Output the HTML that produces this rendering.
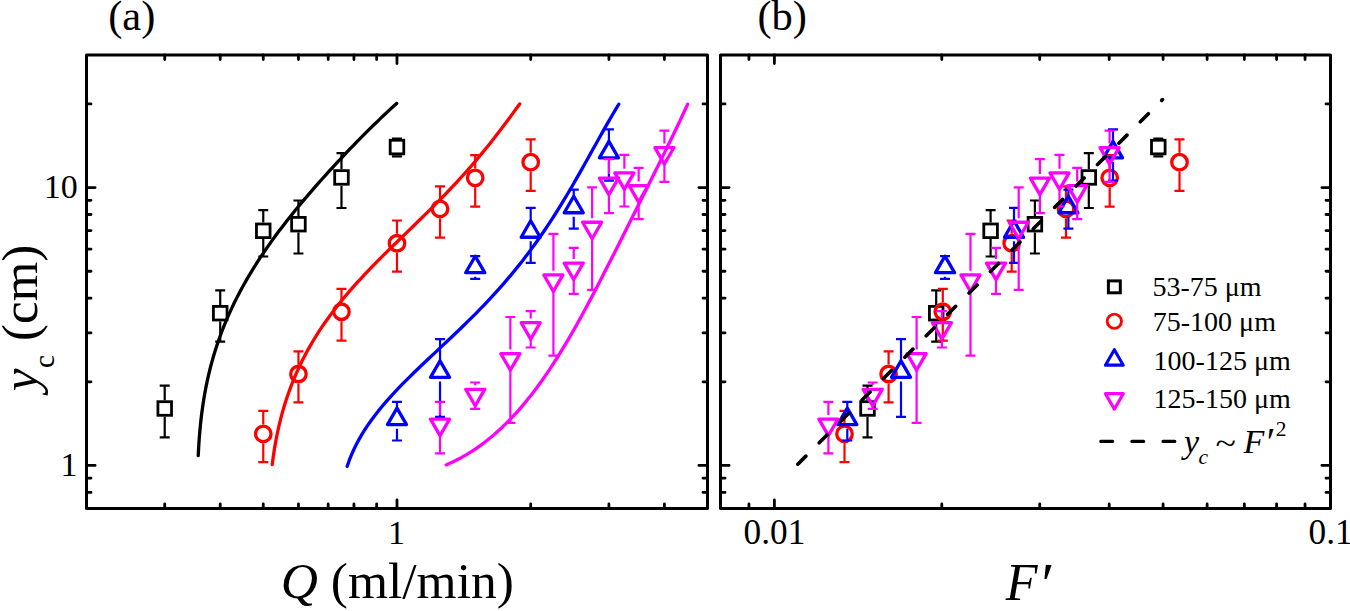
<!DOCTYPE html>
<html><head><meta charset="utf-8"><style>
html,body{margin:0;padding:0;background:#fff;width:1350px;height:611px;overflow:hidden;}
svg{display:block;font-family:"Liberation Serif",serif;}
</style></head><body>
<svg width="1350" height="611" viewBox="0 0 1350 611" font-family="'Liberation Serif', serif">
<rect width="1350" height="611" fill="#fff"/>
<path d="M198.23 455.62 L198.49 450.43 L198.8 445.21 L199.15 439.98 L199.55 434.74 L200 429.49 L200.5 424.24 L201.07 418.98 L201.7 413.73 L202.39 408.48 L203.16 403.24 L203.99 398 L204.89 392.78 L205.87 387.58 L206.93 382.39 L208.06 377.22 L209.26 372.07 L210.55 366.94 L211.91 361.84 L213.35 356.76 L214.87 351.71 L216.47 346.68 L218.15 341.69 L219.91 336.72 L221.74 331.78 L223.65 326.88 L225.63 322 L227.69 317.16 L229.82 312.35 L232.03 307.58 L234.3 302.83 L236.64 298.12 L239.05 293.45 L241.53 288.8 L244.07 284.19 L246.67 279.62 L249.34 275.07 L252.06 270.56 L254.84 266.08 L257.67 261.64 L260.55 257.22 L263.49 252.83 L266.47 248.48 L269.5 244.15 L272.57 239.86 L275.68 235.59 L278.83 231.35 L282.02 227.14 L285.25 222.96 L288.51 218.8 L291.8 214.67 L295.12 210.56 L298.47 206.47 L301.85 202.41 L305.25 198.38 L308.67 194.36 L312.12 190.36 L315.58 186.39 L319.07 182.44 L322.58 178.5 L326.1 174.59 L329.64 170.69 L333.2 166.81 L336.77 162.95 L340.36 159.1 L343.97 155.27 L347.59 151.46 L351.23 147.67 L354.89 143.89 L358.56 140.13 L362.26 136.38 L365.97 132.65 L369.71 128.94 L373.47 125.24 L377.25 121.56 L381.07 117.89 L384.91 114.25 L388.79 110.62 L392.71 107.01 L396.66 103.43" fill="none" stroke="#000000" stroke-width="3.3" stroke-linecap="round" stroke-linejoin="round"/>
<path d="M272.25 464.5 L272.95 459.06 L273.73 453.57 L274.59 448.06 L275.55 442.54 L276.59 437 L277.73 431.46 L278.96 425.93 L280.29 420.41 L281.72 414.91 L283.25 409.43 L284.88 403.97 L286.62 398.55 L288.46 393.17 L290.41 387.83 L292.45 382.53 L294.6 377.27 L296.86 372.07 L299.21 366.92 L301.66 361.82 L304.21 356.77 L306.86 351.78 L309.6 346.85 L312.43 341.97 L315.36 337.15 L318.37 332.39 L321.46 327.68 L324.64 323.03 L327.89 318.43 L331.22 313.89 L334.63 309.4 L338.1 304.96 L341.64 300.57 L345.24 296.23 L348.9 291.93 L352.61 287.68 L356.37 283.47 L360.18 279.29 L364.03 275.15 L367.92 271.04 L371.85 266.97 L375.81 262.92 L379.79 258.89 L383.8 254.89 L387.83 250.9 L391.87 246.93 L395.92 242.97 L399.99 239.02 L404.05 235.08 L408.12 231.13 L412.19 227.19 L416.25 223.25 L420.3 219.3 L424.33 215.34 L428.36 211.37 L432.36 207.39 L436.35 203.39 L440.31 199.37 L444.25 195.33 L448.15 191.26 L452.03 187.18 L455.88 183.06 L459.7 178.92 L463.48 174.75 L467.23 170.55 L470.95 166.31 L474.63 162.05 L478.27 157.75 L481.88 153.42 L485.46 149.06 L489 144.66 L492.51 140.24 L495.98 135.78 L499.43 131.3 L502.85 126.79 L506.25 122.26 L509.63 117.71 L512.99 113.14 L516.33 108.55 L519.67 103.95" fill="none" stroke="#ff0000" stroke-width="3.3" stroke-linecap="round" stroke-linejoin="round"/>
<path d="M347.12 466.43 L349.12 460.73 L351.33 455.18 L353.72 449.78 L356.29 444.52 L359.03 439.39 L361.92 434.38 L364.97 429.48 L368.14 424.7 L371.45 420.01 L374.87 415.41 L378.39 410.9 L382.02 406.46 L385.74 402.1 L389.53 397.8 L393.4 393.55 L397.34 389.36 L401.33 385.22 L405.37 381.12 L409.46 377.05 L413.59 373.01 L417.74 369 L421.92 365 L426.12 361.02 L430.34 357.05 L434.56 353.09 L438.78 349.13 L443.01 345.17 L447.22 341.21 L451.43 337.23 L455.62 333.25 L459.8 329.25 L463.95 325.23 L468.08 321.19 L472.18 317.13 L476.25 313.04 L480.29 308.92 L484.29 304.78 L488.25 300.6 L492.17 296.39 L496.06 292.15 L499.89 287.87 L503.69 283.55 L507.44 279.2 L511.15 274.81 L514.8 270.38 L518.42 265.91 L521.98 261.4 L525.5 256.85 L528.97 252.27 L532.39 247.64 L535.77 242.98 L539.1 238.28 L542.39 233.54 L545.63 228.77 L548.83 223.96 L551.99 219.12 L555.11 214.25 L558.19 209.35 L561.24 204.42 L564.25 199.47 L567.23 194.49 L570.18 189.49 L573.11 184.47 L576.01 179.43 L578.89 174.39 L581.75 169.33 L584.59 164.26 L587.42 159.19 L590.24 154.13 L593.06 149.06 L595.88 144 L598.69 138.95 L601.51 133.92 L604.34 128.9 L607.18 123.91 L610.04 118.95 L612.92 114.02 L615.83 109.12 L618.76 104.27" fill="none" stroke="#0000ff" stroke-width="3.3" stroke-linecap="round" stroke-linejoin="round"/>
<path d="M446.21 464.91 L451.47 462.57 L456.61 460.08 L461.63 457.42 L466.53 454.61 L471.32 451.66 L476.01 448.57 L480.58 445.35 L485.05 442.01 L489.42 438.55 L493.69 434.98 L497.87 431.31 L501.95 427.53 L505.95 423.67 L509.86 419.72 L513.69 415.68 L517.43 411.57 L521.1 407.39 L524.7 403.14 L528.22 398.82 L531.67 394.44 L535.06 390.01 L538.39 385.53 L541.65 381 L544.86 376.42 L548.01 371.81 L551.11 367.15 L554.17 362.46 L557.17 357.74 L560.13 352.99 L563.05 348.21 L565.93 343.41 L568.77 338.58 L571.58 333.74 L574.36 328.87 L577.1 323.99 L579.82 319.09 L582.51 314.18 L585.18 309.26 L587.83 304.33 L590.46 299.39 L593.07 294.44 L595.66 289.48 L598.24 284.52 L600.81 279.55 L603.36 274.58 L605.91 269.6 L608.44 264.62 L610.97 259.64 L613.5 254.66 L616.01 249.67 L618.53 244.68 L621.04 239.69 L623.55 234.7 L626.06 229.71 L628.56 224.72 L631.07 219.72 L633.57 214.73 L636.08 209.73 L638.58 204.73 L641.09 199.73 L643.59 194.73 L646.09 189.73 L648.6 184.73 L651.1 179.72 L653.59 174.71 L656.09 169.7 L658.58 164.68 L661.07 159.66 L663.55 154.64 L666.02 149.62 L668.49 144.59 L670.94 139.55 L673.38 134.52 L675.81 129.47 L678.22 124.43 L680.61 119.37 L682.98 114.32 L685.32 109.26 L687.64 104.19" fill="none" stroke="#ff00ff" stroke-width="3.3" stroke-linecap="round" stroke-linejoin="round"/>
<path d="M164.72 385.7V400.3M164.72 416.7V437.3M159.72 385.7H169.72M159.72 437.3H169.72" stroke="#000000" stroke-width="2.2" fill="none"/>
<rect x="157.92" y="401.7" width="13.6" height="13.6" fill="none" stroke="#000000" stroke-width="2.8"/>
<path d="M220.22 290.4V305M220.22 321.4V341.7M215.22 290.4H225.22M215.22 341.7H225.22" stroke="#000000" stroke-width="2.2" fill="none"/>
<rect x="213.42" y="306.4" width="13.6" height="13.6" fill="none" stroke="#000000" stroke-width="2.8"/>
<path d="M263.26 210.1V222.6M263.26 239V256.5M258.26 210.1H268.26M258.26 256.5H268.26" stroke="#000000" stroke-width="2.2" fill="none"/>
<rect x="256.46" y="224" width="13.6" height="13.6" fill="none" stroke="#000000" stroke-width="2.8"/>
<path d="M298.44 200.5V216M298.44 232.4V253.5M293.44 200.5H303.44M293.44 253.5H303.44" stroke="#000000" stroke-width="2.2" fill="none"/>
<rect x="291.64" y="217.4" width="13.6" height="13.6" fill="none" stroke="#000000" stroke-width="2.8"/>
<path d="M341.48 153.2V169.25M341.48 185.65V208M336.48 153.2H346.48M336.48 208H346.48" stroke="#000000" stroke-width="2.2" fill="none"/>
<rect x="334.68" y="170.65" width="13.6" height="13.6" fill="none" stroke="#000000" stroke-width="2.8"/>
<path d="M396.98 138.6V138.85M396.98 155.25V156.3M391.98 138.6H401.98M391.98 156.3H401.98" stroke="#000000" stroke-width="2.2" fill="none"/>
<rect x="390.18" y="140.25" width="13.6" height="13.6" fill="none" stroke="#000000" stroke-width="2.8"/>
<path d="M263.26 410.9V424.5M263.26 443.3V462.2M258.26 410.9H268.26M258.26 462.2H268.26" stroke="#ff0000" stroke-width="2.2" fill="none"/>
<circle cx="263.26" cy="433.9" r="7.75" fill="none" stroke="#ff0000" stroke-width="3.3"/>
<path d="M298.44 351.4V364.6M298.44 383.4V402.4M293.44 351.4H303.44M293.44 402.4H303.44" stroke="#ff0000" stroke-width="2.2" fill="none"/>
<circle cx="298.44" cy="374" r="7.75" fill="none" stroke="#ff0000" stroke-width="3.3"/>
<path d="M341.48 288.9V302.35M341.48 321.15V340.7M336.48 288.9H346.48M336.48 340.7H346.48" stroke="#ff0000" stroke-width="2.2" fill="none"/>
<circle cx="341.48" cy="311.75" r="7.75" fill="none" stroke="#ff0000" stroke-width="3.3"/>
<path d="M396.98 220.5V233.85M396.98 252.65V271.6M391.98 220.5H401.98M391.98 271.6H401.98" stroke="#ff0000" stroke-width="2.2" fill="none"/>
<circle cx="396.98" cy="243.25" r="7.75" fill="none" stroke="#ff0000" stroke-width="3.3"/>
<path d="M440.03 186.4V199.5M440.03 218.3V237.6M435.03 186.4H445.03M435.03 237.6H445.03" stroke="#ff0000" stroke-width="2.2" fill="none"/>
<circle cx="440.03" cy="208.9" r="7.75" fill="none" stroke="#ff0000" stroke-width="3.3"/>
<path d="M475.2 155.1V168.45M475.2 187.25V206.7M470.2 155.1H480.2M470.2 206.7H480.2" stroke="#ff0000" stroke-width="2.2" fill="none"/>
<circle cx="475.2" cy="177.85" r="7.75" fill="none" stroke="#ff0000" stroke-width="3.3"/>
<path d="M530.7 139.3V152.8M530.7 171.6V190.8M525.7 139.3H535.7M525.7 190.8H535.7" stroke="#ff0000" stroke-width="2.2" fill="none"/>
<circle cx="530.7" cy="162.2" r="7.75" fill="none" stroke="#ff0000" stroke-width="3.3"/>
<path d="M396.98 401.8V409.5M396.98 428.7V440.5M391.98 401.8H401.98M391.98 440.5H401.98" stroke="#0000ff" stroke-width="2.2" fill="none"/>
<polygon points="396.98,408.1 406.51,424.6 387.46,424.6" fill="none" stroke="#0000ff" stroke-width="3.3" stroke-linejoin="round"/>
<path d="M440.03 339.1V362.25M440.03 381.45V416.8M435.03 339.1H445.03M435.03 416.8H445.03" stroke="#0000ff" stroke-width="2.2" fill="none"/>
<polygon points="440.03,360.85 449.56,377.35 430.5,377.35" fill="none" stroke="#0000ff" stroke-width="3.3" stroke-linejoin="round"/>
<path d="M475.2 256.1V257.6M475.2 276.8V278.9M470.2 256.1H480.2M470.2 278.9H480.2" stroke="#0000ff" stroke-width="2.2" fill="none"/>
<polygon points="475.2,256.2 484.73,272.7 465.68,272.7" fill="none" stroke="#0000ff" stroke-width="3.3" stroke-linejoin="round"/>
<path d="M530.7 207.8V222.15M530.7 241.35V262.9M525.7 207.8H535.7M525.7 262.9H535.7" stroke="#0000ff" stroke-width="2.2" fill="none"/>
<polygon points="530.7,220.75 540.23,237.25 521.17,237.25" fill="none" stroke="#0000ff" stroke-width="3.3" stroke-linejoin="round"/>
<path d="M573.75 189.7V197.65M573.75 216.85V228.7M568.75 189.7H578.75M568.75 228.7H578.75" stroke="#0000ff" stroke-width="2.2" fill="none"/>
<polygon points="573.75,196.25 583.27,212.75 564.22,212.75" fill="none" stroke="#0000ff" stroke-width="3.3" stroke-linejoin="round"/>
<path d="M608.92 129.3V142.75M608.92 161.95V180.7M603.92 129.3H613.92M603.92 180.7H613.92" stroke="#0000ff" stroke-width="2.2" fill="none"/>
<polygon points="608.92,141.35 618.45,157.85 599.39,157.85" fill="none" stroke="#0000ff" stroke-width="3.3" stroke-linejoin="round"/>
<path d="M440.03 401.9V415M440.03 434.2V453.3M435.03 401.9H445.03M435.03 453.3H445.03" stroke="#ff00ff" stroke-width="2.2" fill="none"/>
<polygon points="440.03,435.6 449.56,419.1 430.5,419.1" fill="none" stroke="#ff00ff" stroke-width="3.3" stroke-linejoin="round"/>
<path d="M475.2 382.5V385.2M475.2 404.4V408.9M470.2 382.5H480.2M470.2 408.9H480.2" stroke="#ff00ff" stroke-width="2.2" fill="none"/>
<polygon points="475.2,405.8 484.73,389.3 465.68,389.3" fill="none" stroke="#ff00ff" stroke-width="3.3" stroke-linejoin="round"/>
<path d="M510.37 317V349.6M510.37 368.8V422.8M505.37 317H515.37M505.37 422.8H515.37" stroke="#ff00ff" stroke-width="2.2" fill="none"/>
<polygon points="510.37,370.2 519.9,353.7 500.85,353.7" fill="none" stroke="#ff00ff" stroke-width="3.3" stroke-linejoin="round"/>
<path d="M530.7 311.1V318.6M530.7 337.8V347.5M525.7 311.1H535.7M525.7 347.5H535.7" stroke="#ff00ff" stroke-width="2.2" fill="none"/>
<polygon points="530.7,339.2 540.23,322.7 521.17,322.7" fill="none" stroke="#ff00ff" stroke-width="3.3" stroke-linejoin="round"/>
<path d="M553.42 233.9V270.85M553.42 290.05V355.6M548.42 233.9H558.42M548.42 355.6H558.42" stroke="#ff00ff" stroke-width="2.2" fill="none"/>
<polygon points="553.42,291.45 562.95,274.95 543.9,274.95" fill="none" stroke="#ff00ff" stroke-width="3.3" stroke-linejoin="round"/>
<path d="M573.75 247.9V258.95M573.75 278.15V293.9M568.75 247.9H578.75M568.75 293.9H578.75" stroke="#ff00ff" stroke-width="2.2" fill="none"/>
<polygon points="573.75,279.55 583.27,263.05 564.22,263.05" fill="none" stroke="#ff00ff" stroke-width="3.3" stroke-linejoin="round"/>
<path d="M592.13 187.3V218.15M592.13 237.35V289.9M587.13 187.3H597.13M587.13 289.9H597.13" stroke="#ff00ff" stroke-width="2.2" fill="none"/>
<polygon points="592.13,238.75 601.66,222.25 582.61,222.25" fill="none" stroke="#ff00ff" stroke-width="3.3" stroke-linejoin="round"/>
<path d="M608.92 159.2V173.95M608.92 193.15V213.1M603.92 159.2H613.92M603.92 213.1H613.92" stroke="#ff00ff" stroke-width="2.2" fill="none"/>
<polygon points="608.92,194.55 618.45,178.05 599.39,178.05" fill="none" stroke="#ff00ff" stroke-width="3.3" stroke-linejoin="round"/>
<path d="M624.36 154.9V168.85M624.36 188.05V206.5M619.36 154.9H629.36M619.36 206.5H629.36" stroke="#ff00ff" stroke-width="2.2" fill="none"/>
<polygon points="624.36,189.45 633.89,172.95 614.83,172.95" fill="none" stroke="#ff00ff" stroke-width="3.3" stroke-linejoin="round"/>
<path d="M638.66 167.9V181.55M638.66 200.75V219.1M633.66 167.9H643.66M633.66 219.1H643.66" stroke="#ff00ff" stroke-width="2.2" fill="none"/>
<polygon points="638.66,202.15 648.18,185.65 629.13,185.65" fill="none" stroke="#ff00ff" stroke-width="3.3" stroke-linejoin="round"/>
<path d="M664.42 130.7V143.45M664.42 162.65V181.9M659.42 130.7H669.42M659.42 181.9H669.42" stroke="#ff00ff" stroke-width="2.2" fill="none"/>
<polygon points="664.42,164.05 673.94,147.55 654.89,147.55" fill="none" stroke="#ff00ff" stroke-width="3.3" stroke-linejoin="round"/>
<path d="M867.5 385.7V400.3M867.5 416.7V437.3M862.5 385.7H872.5M862.5 437.3H872.5" stroke="#000000" stroke-width="2.2" fill="none"/>
<rect x="860.7" y="401.7" width="13.6" height="13.6" fill="none" stroke="#000000" stroke-width="2.8"/>
<path d="M936.2 290.4V305M936.2 321.4V341.7M931.2 290.4H941.2M931.2 341.7H941.2" stroke="#000000" stroke-width="2.2" fill="none"/>
<rect x="929.4" y="306.4" width="13.6" height="13.6" fill="none" stroke="#000000" stroke-width="2.8"/>
<path d="M990.6 210.1V222.6M990.6 239V256.5M985.6 210.1H995.6M985.6 256.5H995.6" stroke="#000000" stroke-width="2.2" fill="none"/>
<rect x="983.8" y="224" width="13.6" height="13.6" fill="none" stroke="#000000" stroke-width="2.8"/>
<path d="M1034.9 200.5V216M1034.9 232.4V253.5M1029.9 200.5H1039.9M1029.9 253.5H1039.9" stroke="#000000" stroke-width="2.2" fill="none"/>
<rect x="1028.1" y="217.4" width="13.6" height="13.6" fill="none" stroke="#000000" stroke-width="2.8"/>
<path d="M1088.8 153.2V169.25M1088.8 185.65V208M1083.8 153.2H1093.8M1083.8 208H1093.8" stroke="#000000" stroke-width="2.2" fill="none"/>
<rect x="1082" y="170.65" width="13.6" height="13.6" fill="none" stroke="#000000" stroke-width="2.8"/>
<path d="M1158.3 138.6V138.85M1158.3 155.25V156.3M1153.3 138.6H1163.3M1153.3 156.3H1163.3" stroke="#000000" stroke-width="2.2" fill="none"/>
<rect x="1151.5" y="140.25" width="13.6" height="13.6" fill="none" stroke="#000000" stroke-width="2.8"/>
<path d="M844.5 410.9V424.5M844.5 443.3V462.2M839.5 410.9H849.5M839.5 462.2H849.5" stroke="#ff0000" stroke-width="2.2" fill="none"/>
<circle cx="844.5" cy="433.9" r="7.75" fill="none" stroke="#ff0000" stroke-width="3.3"/>
<path d="M888.6 351.4V364.6M888.6 383.4V402.4M883.6 351.4H893.6M883.6 402.4H893.6" stroke="#ff0000" stroke-width="2.2" fill="none"/>
<circle cx="888.6" cy="374" r="7.75" fill="none" stroke="#ff0000" stroke-width="3.3"/>
<path d="M942.8 288.9V302.35M942.8 321.15V340.7M937.8 288.9H947.8M937.8 340.7H947.8" stroke="#ff0000" stroke-width="2.2" fill="none"/>
<circle cx="942.8" cy="311.75" r="7.75" fill="none" stroke="#ff0000" stroke-width="3.3"/>
<path d="M1011.7 220.5V233.85M1011.7 252.65V271.6M1006.7 220.5H1016.7M1006.7 271.6H1016.7" stroke="#ff0000" stroke-width="2.2" fill="none"/>
<circle cx="1011.7" cy="243.25" r="7.75" fill="none" stroke="#ff0000" stroke-width="3.3"/>
<path d="M1066 186.4V199.5M1066 218.3V237.6M1061 186.4H1071M1061 237.6H1071" stroke="#ff0000" stroke-width="2.2" fill="none"/>
<circle cx="1066" cy="208.9" r="7.75" fill="none" stroke="#ff0000" stroke-width="3.3"/>
<path d="M1109.7 155.1V168.45M1109.7 187.25V206.7M1104.7 155.1H1114.7M1104.7 206.7H1114.7" stroke="#ff0000" stroke-width="2.2" fill="none"/>
<circle cx="1109.7" cy="177.85" r="7.75" fill="none" stroke="#ff0000" stroke-width="3.3"/>
<path d="M1179.5 139.3V152.8M1179.5 171.6V190.8M1174.5 139.3H1184.5M1174.5 190.8H1184.5" stroke="#ff0000" stroke-width="2.2" fill="none"/>
<circle cx="1179.5" cy="162.2" r="7.75" fill="none" stroke="#ff0000" stroke-width="3.3"/>
<path d="M847.3 401.8V409.5M847.3 428.7V440.5M842.3 401.8H852.3M842.3 440.5H852.3" stroke="#0000ff" stroke-width="2.2" fill="none"/>
<polygon points="847.3,408.1 856.83,424.6 837.77,424.6" fill="none" stroke="#0000ff" stroke-width="3.3" stroke-linejoin="round"/>
<path d="M901 339.1V362.25M901 381.45V416.8M896 339.1H906M896 416.8H906" stroke="#0000ff" stroke-width="2.2" fill="none"/>
<polygon points="901,360.85 910.53,377.35 891.47,377.35" fill="none" stroke="#0000ff" stroke-width="3.3" stroke-linejoin="round"/>
<path d="M945 256.1V257.6M945 276.8V278.9M940 256.1H950M940 278.9H950" stroke="#0000ff" stroke-width="2.2" fill="none"/>
<polygon points="945,256.2 954.53,272.7 935.47,272.7" fill="none" stroke="#0000ff" stroke-width="3.3" stroke-linejoin="round"/>
<path d="M1014 207.8V222.15M1014 241.35V262.9M1009 207.8H1019M1009 262.9H1019" stroke="#0000ff" stroke-width="2.2" fill="none"/>
<polygon points="1014,220.75 1023.53,237.25 1004.47,237.25" fill="none" stroke="#0000ff" stroke-width="3.3" stroke-linejoin="round"/>
<path d="M1068.4 189.7V197.65M1068.4 216.85V228.7M1063.4 189.7H1073.4M1063.4 228.7H1073.4" stroke="#0000ff" stroke-width="2.2" fill="none"/>
<polygon points="1068.4,196.25 1077.93,212.75 1058.87,212.75" fill="none" stroke="#0000ff" stroke-width="3.3" stroke-linejoin="round"/>
<path d="M1113 129.3V142.75M1113 161.95V180.7M1108 129.3H1118M1108 180.7H1118" stroke="#0000ff" stroke-width="2.2" fill="none"/>
<polygon points="1113,141.35 1122.53,157.85 1103.47,157.85" fill="none" stroke="#0000ff" stroke-width="3.3" stroke-linejoin="round"/>
<path d="M828.4 401.9V415M828.4 434.2V453.3M823.4 401.9H833.4M823.4 453.3H833.4" stroke="#ff00ff" stroke-width="2.2" fill="none"/>
<polygon points="828.4,435.6 837.93,419.1 818.87,419.1" fill="none" stroke="#ff00ff" stroke-width="3.3" stroke-linejoin="round"/>
<path d="M872.7 382.5V385.2M872.7 404.4V408.9M867.7 382.5H877.7M867.7 408.9H877.7" stroke="#ff00ff" stroke-width="2.2" fill="none"/>
<polygon points="872.7,405.8 882.23,389.3 863.17,389.3" fill="none" stroke="#ff00ff" stroke-width="3.3" stroke-linejoin="round"/>
<path d="M916.6 317V349.6M916.6 368.8V422.8M911.6 317H921.6M911.6 422.8H921.6" stroke="#ff00ff" stroke-width="2.2" fill="none"/>
<polygon points="916.6,370.2 926.13,353.7 907.07,353.7" fill="none" stroke="#ff00ff" stroke-width="3.3" stroke-linejoin="round"/>
<path d="M941.9 311.1V318.6M941.9 337.8V347.5M936.9 311.1H946.9M936.9 347.5H946.9" stroke="#ff00ff" stroke-width="2.2" fill="none"/>
<polygon points="941.9,339.2 951.43,322.7 932.37,322.7" fill="none" stroke="#ff00ff" stroke-width="3.3" stroke-linejoin="round"/>
<path d="M970.5 233.9V270.85M970.5 290.05V355.6M965.5 233.9H975.5M965.5 355.6H975.5" stroke="#ff00ff" stroke-width="2.2" fill="none"/>
<polygon points="970.5,291.45 980.03,274.95 960.97,274.95" fill="none" stroke="#ff00ff" stroke-width="3.3" stroke-linejoin="round"/>
<path d="M996 247.9V258.95M996 278.15V293.9M991 247.9H1001M991 293.9H1001" stroke="#ff00ff" stroke-width="2.2" fill="none"/>
<polygon points="996,279.55 1005.53,263.05 986.47,263.05" fill="none" stroke="#ff00ff" stroke-width="3.3" stroke-linejoin="round"/>
<path d="M1018.7 187.3V218.15M1018.7 237.35V289.9M1013.7 187.3H1023.7M1013.7 289.9H1023.7" stroke="#ff00ff" stroke-width="2.2" fill="none"/>
<polygon points="1018.7,238.75 1028.23,222.25 1009.17,222.25" fill="none" stroke="#ff00ff" stroke-width="3.3" stroke-linejoin="round"/>
<path d="M1039.9 159.2V173.95M1039.9 193.15V213.1M1034.9 159.2H1044.9M1034.9 213.1H1044.9" stroke="#ff00ff" stroke-width="2.2" fill="none"/>
<polygon points="1039.9,194.55 1049.43,178.05 1030.37,178.05" fill="none" stroke="#ff00ff" stroke-width="3.3" stroke-linejoin="round"/>
<path d="M1059.5 154.9V168.85M1059.5 188.05V206.5M1054.5 154.9H1064.5M1054.5 206.5H1064.5" stroke="#ff00ff" stroke-width="2.2" fill="none"/>
<polygon points="1059.5,189.45 1069.03,172.95 1049.97,172.95" fill="none" stroke="#ff00ff" stroke-width="3.3" stroke-linejoin="round"/>
<path d="M1077.2 167.9V181.55M1077.2 200.75V219.1M1072.2 167.9H1082.2M1072.2 219.1H1082.2" stroke="#ff00ff" stroke-width="2.2" fill="none"/>
<polygon points="1077.2,202.15 1086.73,185.65 1067.67,185.65" fill="none" stroke="#ff00ff" stroke-width="3.3" stroke-linejoin="round"/>
<path d="M1109.6 130.7V143.45M1109.6 162.65V181.9M1104.6 130.7H1114.6M1104.6 181.9H1114.6" stroke="#ff00ff" stroke-width="2.2" fill="none"/>
<polygon points="1109.6,164.05 1119.13,147.55 1100.07,147.55" fill="none" stroke="#ff00ff" stroke-width="3.3" stroke-linejoin="round"/>
<path d="M797.8 464.2L1162.5 99.6" stroke="#000" stroke-width="3.6" stroke-dasharray="11.4 18.87" stroke-linecap="round" fill="none"/>
<path d="M164.72 55V59.5M164.72 508.5V504M220.22 55V59.5M220.22 508.5V504M263.26 55V59.5M263.26 508.5V504M298.44 55V59.5M298.44 508.5V504M328.18 55V59.5M328.18 508.5V504M353.94 55V59.5M353.94 508.5V504M376.66 55V59.5M376.66 508.5V504M396.98 55V63.6M396.98 508.5V499.9M530.7 55V59.5M530.7 508.5V504M608.92 55V59.5M608.92 508.5V504M664.42 55V59.5M664.42 508.5V504M748.95 55V59.5M748.95 508.5V504M774.39 55V63.6M774.39 508.5V499.9M941.79 55V59.5M941.79 508.5V504M1039.72 55V59.5M1039.72 508.5V504M1109.2 55V59.5M1109.2 508.5V504M1163.09 55V59.5M1163.09 508.5V504M1207.12 55V59.5M1207.12 508.5V504M1244.35 55V59.5M1244.35 508.5V504M1276.6 55V59.5M1276.6 508.5V504M1305.05 55V59.5M1305.05 508.5V504M86.5 492.39H91M707.5 492.39H703M86.5 478.17H91M707.5 478.17H703M86.5 465.46H95.1M707.5 465.46H698.9M86.5 381.81H91M707.5 381.81H703M86.5 332.87H91M707.5 332.87H703M86.5 298.16H91M707.5 298.16H703M86.5 271.23H91M707.5 271.23H703M86.5 249.22H91M707.5 249.22H703M86.5 230.62H91M707.5 230.62H703M86.5 214.51H91M707.5 214.51H703M86.5 200.29H91M707.5 200.29H703M86.5 187.58H95.1M707.5 187.58H698.9M86.5 103.93H91M707.5 103.93H703M720.5 492.39H725M1330.5 492.39H1326M720.5 478.17H725M1330.5 478.17H1326M720.5 465.46H729.1M1330.5 465.46H1321.9M720.5 381.81H725M1330.5 381.81H1326M720.5 332.87H725M1330.5 332.87H1326M720.5 298.16H725M1330.5 298.16H1326M720.5 271.23H725M1330.5 271.23H1326M720.5 249.22H725M1330.5 249.22H1326M720.5 230.62H725M1330.5 230.62H1326M720.5 214.51H725M1330.5 214.51H1326M720.5 200.29H725M1330.5 200.29H1326M720.5 187.58H729.1M1330.5 187.58H1321.9M720.5 103.93H725M1330.5 103.93H1326" stroke="#000" stroke-width="2.8" stroke-linecap="round" fill="none"/>
<rect x="86.5" y="55.0" width="621.0" height="453.5" fill="none" stroke="#000" stroke-width="3" stroke-linejoin="round"/>
<rect x="720.5" y="55.0" width="610.0" height="453.5" fill="none" stroke="#000" stroke-width="3" stroke-linejoin="round"/>
<rect x="1108.4" y="280.9" width="11.9" height="11.9" fill="none" stroke="#000000" stroke-width="3.0"/>
<circle cx="1114.35" cy="321.3" r="7.15" fill="none" stroke="#ff0000" stroke-width="2.8"/>
<polygon points="1114.35,349.7 1123.27,365.15 1105.43,365.15" fill="none" stroke="#0000ff" stroke-width="3.1" stroke-linejoin="round"/>
<polygon points="1114.35,409.1 1123.27,393.65 1105.43,393.65" fill="none" stroke="#ff00ff" stroke-width="3.1" stroke-linejoin="round"/>
<path d="M1100.8 441.4H1112.6M1131.9 441.4H1143.7M1163 441.4H1174.8" stroke="#000" stroke-width="3.2" stroke-linecap="round"/>
<g fill="#000">
<text x="108.2" y="29.8" font-size="42.5">(a)</text>
<text x="757.4" y="29.8" font-size="42.5">(b)</text>
<text x="77.7" y="197.5" font-size="34" text-anchor="end">10</text>
<text x="77.5" y="475.6" font-size="34" text-anchor="end">1</text>
<text x="387.9" y="543.9" font-size="34">1</text>
<text x="743.56" y="544.46" font-size="35.3">0.01</text>
<text x="1308.56" y="544.46" font-size="35.3">0.1</text>
<text x="280.7" y="597.8" font-size="51.5"><tspan font-style="italic">Q</tspan> (ml/min)</text>
<text x="1005.8" y="600" font-size="52" font-style="italic">F</text>
<text x="1037.75" y="604.3" font-size="60" font-style="italic">′</text>
<text transform="rotate(-90)" x="-391.2" y="36.9" font-size="51"><tspan font-style="italic">y</tspan><tspan font-size="29" dx="0.5" dy="17.3">c</tspan><tspan dx="1.5" dy="-17.3"> (cm)</tspan></text>
<text x="1152.4" y="296.4" font-size="28">53-75 μm</text>
<text x="1152.8" y="330.7" font-size="28">75-100 μm</text>
<text x="1153.6" y="369.5" font-size="28">100-125 μm</text>
<text x="1153.6" y="407.8" font-size="28">125-150 μm</text>
<text x="1184.1" y="452.7" font-size="34" font-style="italic">y</text>
<text x="1198.6" y="464.3" font-size="21.5" font-style="italic">c</text>
<text transform="translate(1215.55,454) scale(1.11,0.95)" font-size="34">~</text>
<text x="1243.6" y="452.8" font-size="34" font-style="italic">F</text>
<text x="1264.2" y="455.4" font-size="40" font-style="italic">′</text>
<text x="1275.8" y="436.2" font-size="21.5">2</text>
</g>
</svg>
</body></html>
